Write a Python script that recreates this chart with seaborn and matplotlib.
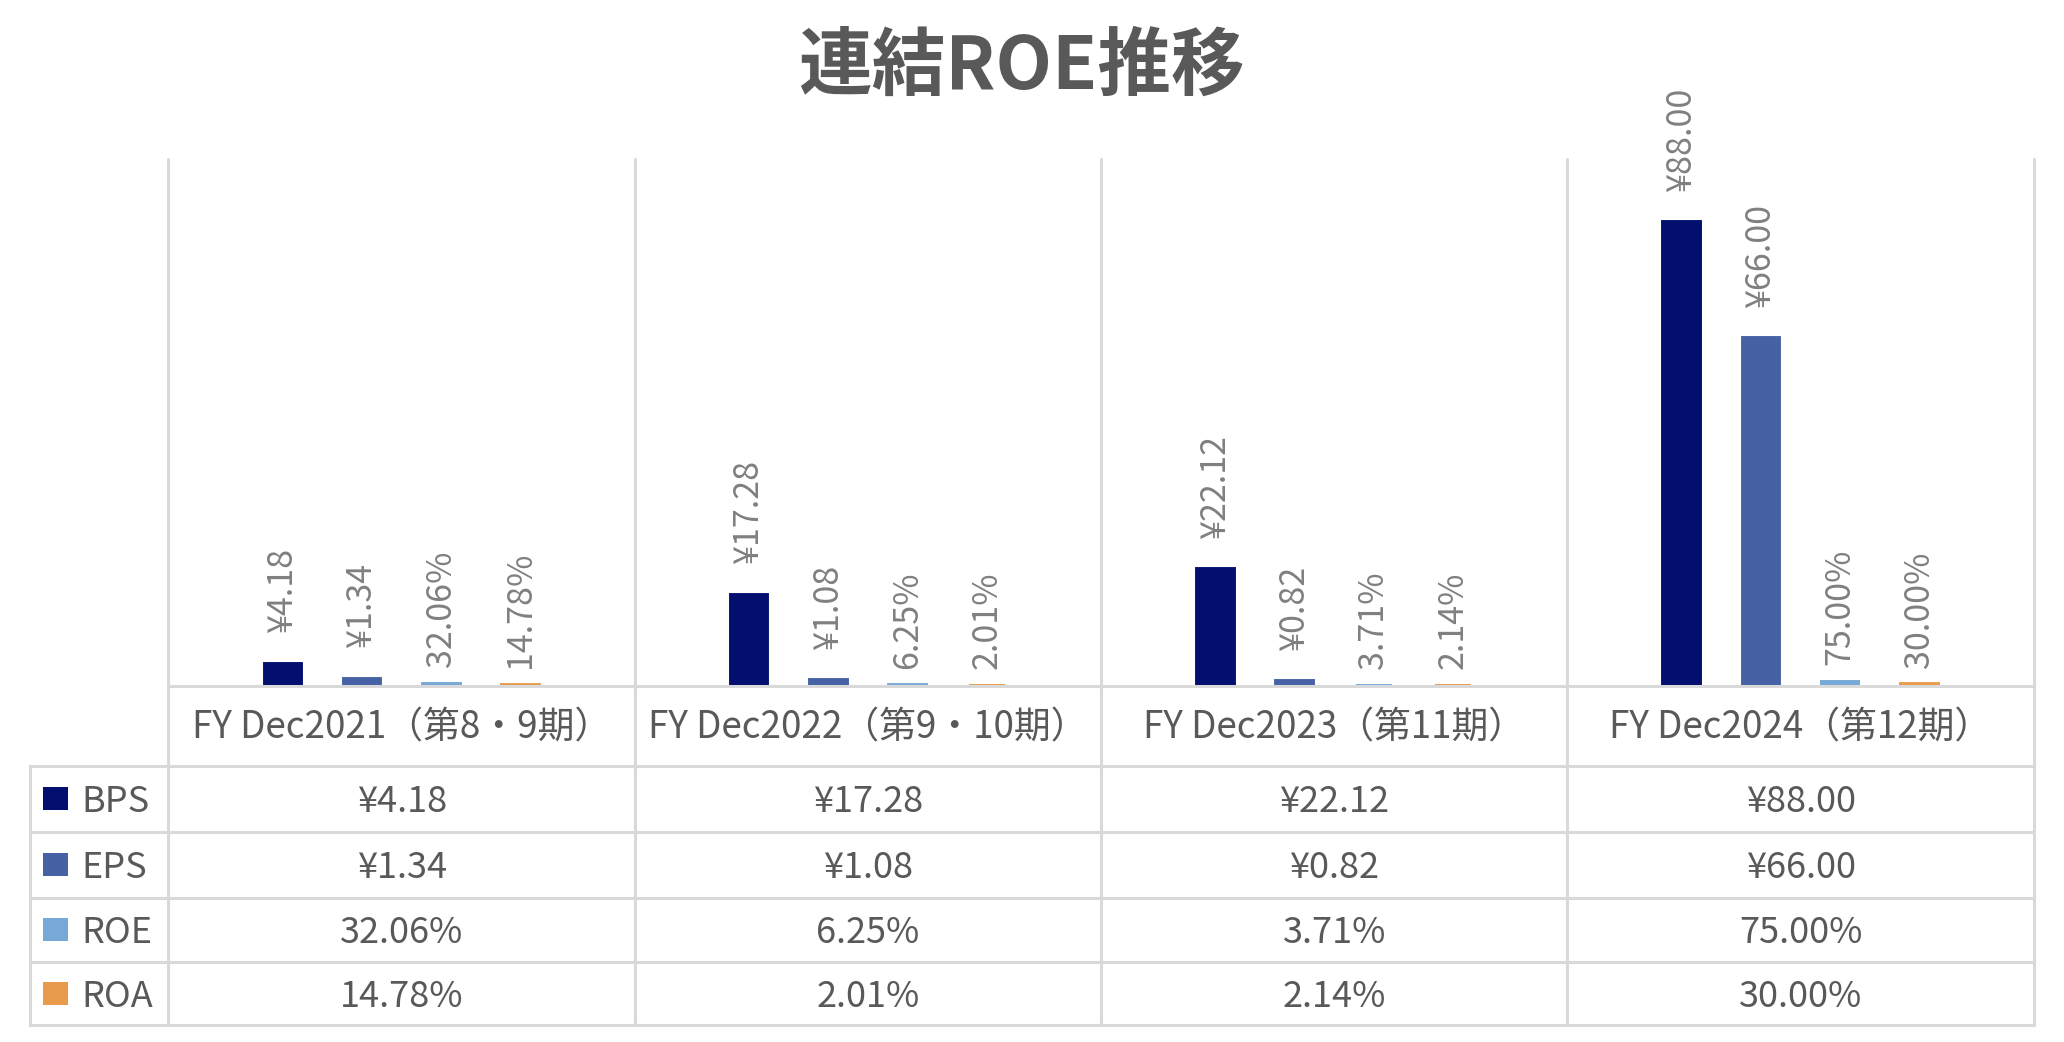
import numpy as np
import pandas as pd
import seaborn as sns
import matplotlib
matplotlib.use("Agg")
import matplotlib.pyplot as plt
import matplotlib.transforms as mtransforms
from matplotlib.lines import Line2D
from matplotlib.patches import Rectangle

# ---------------- data ----------------
title = "連結ROE推移"
periods = ["FY Dec2021（第8・9期）", "FY Dec2022（第9・10期）",
           "FY Dec2023（第11期）", "FY Dec2024（第12期）"]
metrics = ["BPS", "EPS", "ROE", "ROA"]
bps = [4.18, 17.28, 22.12, 88.00]
eps = [1.34, 1.08, 0.82, 66.00]
roe = [0.3206, 0.0625, 0.0371, 0.75]
roa = [0.1478, 0.0201, 0.0214, 0.30]
colors = ["#020F6E", "#4662A5", "#76A8D8", "#E99B4C"]

series = {"BPS": bps, "EPS": eps, "ROE": roe, "ROA": roa}
is_pct = {"BPS": False, "EPS": False, "ROE": True, "ROA": True}

def fmt(m, v):
    return f"{v * 100:.2f}%" if is_pct[m] else f"¥{v:.2f}"

df = pd.DataFrame({
    "period": periods * len(metrics),
    "metric": np.repeat(metrics, len(periods)),
    "value": bps + eps + roe + roa,
})

# ---------------- style ----------------
sns.set_theme(style="white")
plt.rcParams["font.family"] = ["Noto Sans CJK JP", "DejaVu Sans"]

W, H = 2064, 1042
fig = plt.figure(figsize=(W / 100, H / 100), dpi=100)

def fx(px):
    return px / W

def fy(py):
    return 1 - py / H

ax_left, ax_right, ax_top, ax_bottom = 168.5, 2033.7, 159.3, 685.8
ax = fig.add_axes([fx(ax_left), fy(ax_bottom), fx(ax_right - ax_left), (ax_bottom - ax_top) / H])

sns.barplot(data=df, x="period", y="value", hue="metric", order=periods,
            hue_order=metrics, palette=colors, width=0.68, gap=0.54,
            saturation=1, legend=False, ax=ax, errorbar=None)

for cont, m, c in zip(ax.containers, metrics, colors):
    for p in cont:
        p.set_edgecolor(c)
        p.set_linewidth(2.8)
        p.set_zorder(3)
    pad = 12 if is_pct[m] else 22
    ax.bar_label(cont, labels=[fmt(m, v) for v in series[m]], rotation=90,
                 padding=pad, color="#808080", fontsize=24.5)

ax.set_ylim(0, 100)
ax.set_xlim(-0.5, 3.5)
ax.set_xticks([])
ax.set_yticks([])
ax.set_xlabel("")
ax.set_ylabel("")
for s in ax.spines.values():
    s.set_visible(False)
ax.patch.set_alpha(0)

# ---------------- table / grid ----------------
grid_c = "#D9D9D9"
lw = 2.2
blend = mtransforms.blended_transform_factory(ax.transData, fig.transFigure)

rows_y = [766.1, 831.9, 897.7, 962.2, 1025.4]
table_left = 30.3

# vertical lines at category boundaries
for xb in [-0.5, 0.5, 1.5, 2.5, 3.5]:
    fig.add_artist(Line2D([xb, xb], [fy(ax_top), fy(rows_y[-1])], transform=blend,
                          color=grid_c, lw=lw, zorder=1))
# baseline
fig.add_artist(Line2D([-0.5, 3.5], [fy(ax_bottom), fy(ax_bottom)], transform=blend,
                      color=grid_c, lw=lw, zorder=1))
# table horizontal lines
for ry in rows_y:
    fig.add_artist(Line2D([fx(table_left), fx(ax_right)], [fy(ry), fy(ry)],
                          transform=fig.transFigure, color=grid_c, lw=lw, zorder=1))
# left edge of legend column
fig.add_artist(Line2D([fx(table_left), fx(table_left)], [fy(rows_y[0]), fy(rows_y[-1])],
                      transform=fig.transFigure, color=grid_c, lw=lw, zorder=1))

text_c = "#595959"
# header row: category names
header_y = (ax_bottom + rows_y[0]) / 2 + 2
for i, p in enumerate(periods):
    fig.text(i, fy(header_y), p, transform=blend, ha="center", va="center",
             fontsize=26.5, color=text_c)

# data rows
for r, (m, c) in enumerate(zip(metrics, colors)):
    cy = (rows_y[r] + rows_y[r + 1]) / 2
    fig.add_artist(Rectangle((fx(43), fy(cy + 11)), fx(25), 23 / H,
                             transform=fig.transFigure, facecolor=c, edgecolor="none"))
    fig.text(fx(81), fy(cy + 3), m, ha="left", va="center", fontsize=26, color=text_c)
    for i, v in enumerate(series[m]):
        fig.text(i, fy(cy + 3), fmt(m, v), transform=blend, ha="center", va="center",
                 fontsize=26, color=text_c)

# title
fig.text(fx(1021), fy(67), title, ha="center", va="center", fontsize=53,
         fontweight="bold", color=text_c)

fig.savefig("out.png", dpi=100)
